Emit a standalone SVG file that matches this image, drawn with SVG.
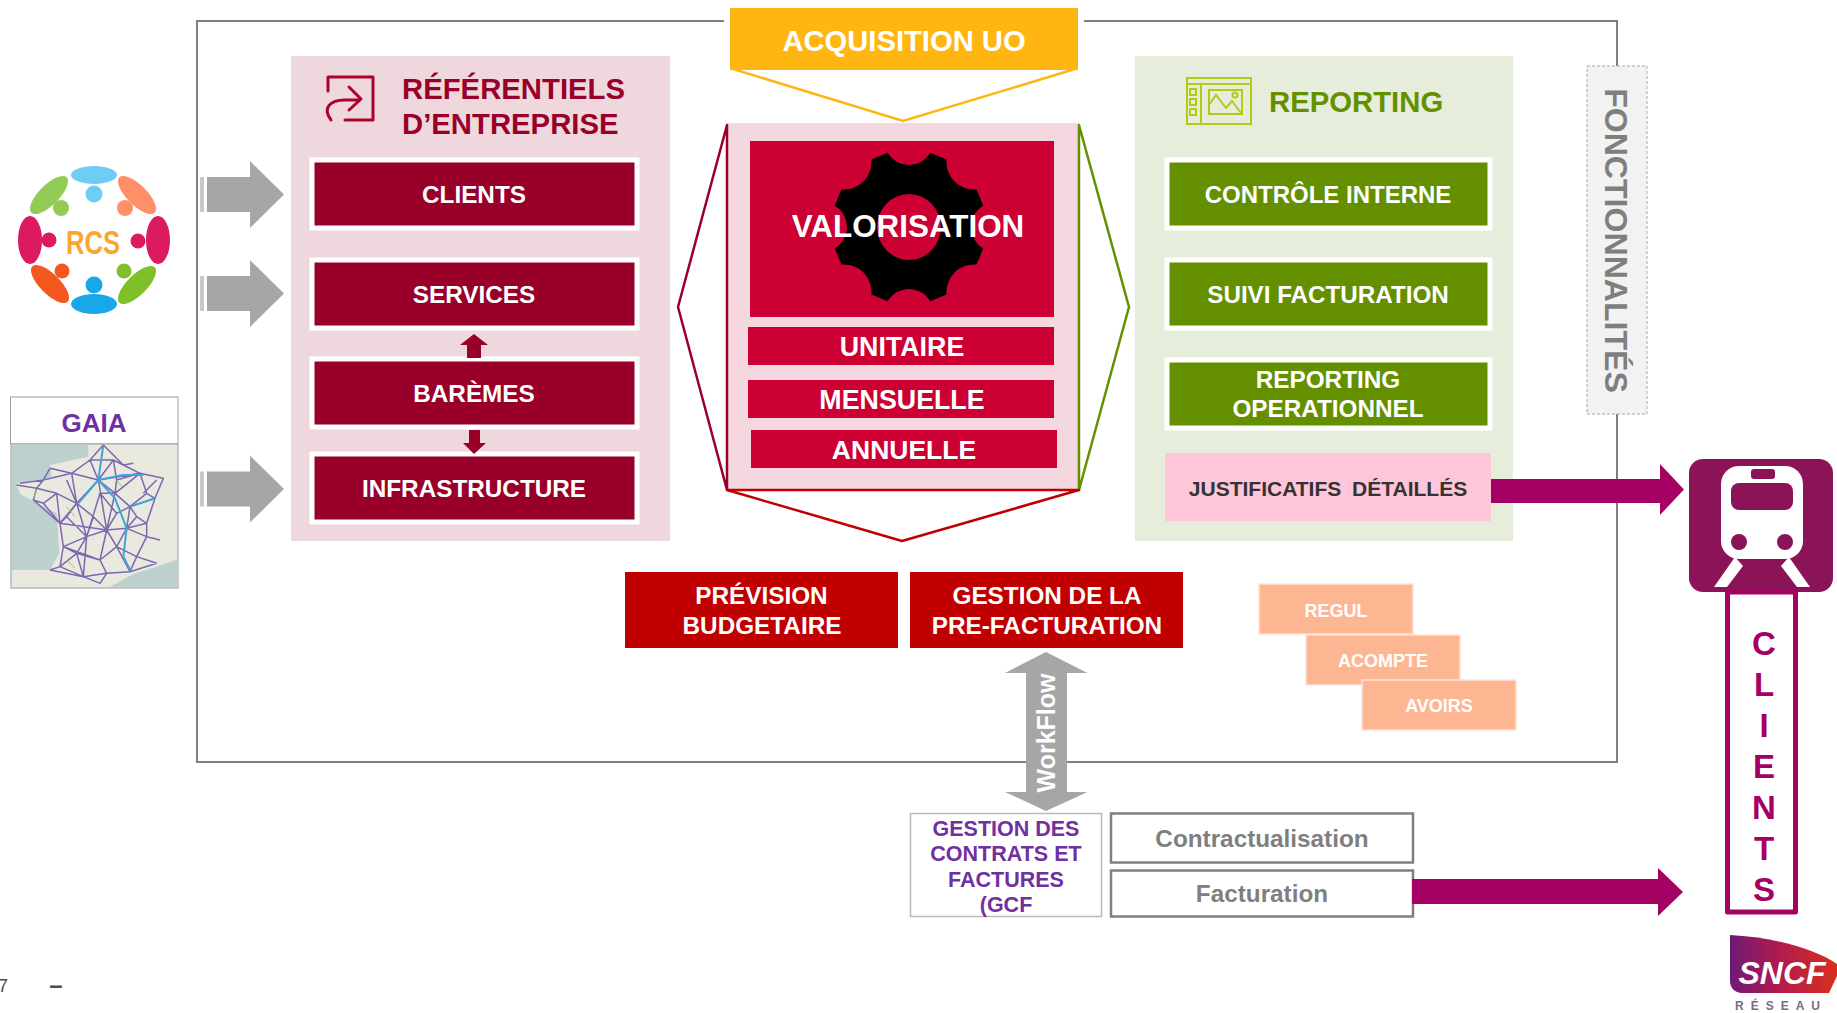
<svg xmlns="http://www.w3.org/2000/svg" width="1837" height="1013" viewBox="0 0 1837 1013">
<style>
text{font-family:"Liberation Sans",Arial,sans-serif;font-weight:700;text-anchor:middle}
.w{fill:#fff}
.f24{font-size:24.300px}
.ref{fill:#990029;stroke:#fff;stroke-width:5}
.rep{fill:#649000;stroke:#fff;stroke-width:5}
.val{fill:#CC0033}
.red{fill:#C00000}
.peach{fill:#FDB692;stroke:#FFE3D6;stroke-width:1.5}
.grey{fill:#A6A6A6}
.purple{fill:#A50064}
.cl{fill:#A50064;font-size:33px}
.title{font-size:29.300px;text-anchor:start}
.gc{fill:#7030A0;font-size:21.500px}
.outl{fill:#fff;stroke:#7F7F7F;stroke-width:2.5}
.net{fill:none;stroke:#7B68AE;stroke-width:4.500;stroke-linejoin:round}
.lgv{fill:none;stroke:#3FA5D8;stroke-width:6;stroke-linejoin:round}
</style>
<defs>
<path id="ga" d="M207 -17.500H250V-33.500L284 0L250 33.500V17.500H207Z"/>
<linearGradient id="sncf" x1="0" x2="1" y1="0" y2="0"><stop offset="0" stop-color="#6E1A78"/><stop offset=".45" stop-color="#B01A4E"/><stop offset="1" stop-color="#D8301E"/></linearGradient>
</defs>

<path id="frame" d="M724 21H197V762H1617V66M1617 66V21H1084" fill="none" stroke="#7F7F7F" stroke-width="2"/>

<g id="referentiels">
<rect x="291" y="56" width="379" height="485" fill="#EED8DE"/>
<path d="M328 91V77H373V120H345M331 120C322 108 330 100 345 100H360M349 87L361 99L349 110" fill="none" stroke="#B0002A" stroke-width="3" stroke-linejoin="round" stroke-linecap="round"/>
<text class="title" x="402" y="99" fill="#990029">RÉFÉRENTIELS</text>
<text class="title" x="402" y="134" fill="#990029">D’ENTREPRISE</text>
</g>
<g id="clients-ref"><rect class="ref" x="312" y="160" width="325" height="68"/><text class="w f24" x="474" y="203">CLIENTS</text></g>
<g id="services"><rect class="ref" x="312" y="260" width="325" height="68"/><text class="w f24" x="474" y="303">SERVICES</text></g>
<g id="baremes"><rect class="ref" x="312" y="359" width="325" height="68"/><text class="w f24" x="474" y="402">BARÈMES</text></g>
<g id="infrastructure"><rect class="ref" x="312" y="454" width="325" height="68"/><text class="w f24" x="474" y="497">INFRASTRUCTURE</text></g>

<g id="acquisition">
<path d="M733 69L903 121L1075 69" fill="none" stroke="#FFB612" stroke-width="2.500"/>
<rect x="730" y="8" width="348" height="62" fill="#FFB612"/>
<text class="w" x="904" y="51" font-size="29.200">ACQUISITION UO</text>
</g>

<g id="valorisation">
<rect x="727" y="123" width="352" height="367" fill="#F5D7E0"/>
<path d="M727 125L678 307L727 490Z" fill="none" stroke="#990029" stroke-width="2.500" stroke-linejoin="round"/>
<path d="M1079 125L1129 307L1079 490Z" fill="none" stroke="#649000" stroke-width="2.500" stroke-linejoin="round"/>
<path d="M727 490L902 541L1079 490Z" fill="none" stroke="#C00000" stroke-width="2.500" stroke-linejoin="round"/>
<rect class="val" x="750" y="141" width="304" height="176"/>
<g transform="translate(909 227) scale(1.030)">
<path fill-rule="evenodd" d="M20.700 -72.100L36.400 -65.600A27 27 0 0 0 65.600 -36.400L72.100 -20.700A24 24 0 0 0 72.100 20.700L65.600 36.400A27 27 0 0 0 36.400 65.600L20.700 72.100A24 24 0 0 0 -20.700 72.100L-36.400 65.600A27 27 0 0 0 -65.600 36.400L-72.100 20.700A24 24 0 0 0 -72.100 -20.700L-65.600 -36.400A27 27 0 0 0 -36.400 -65.600L-20.700 -72.100A24 24 0 0 0 20.700 -72.100ZM31 0A31 32 0 1 0 -31 0A31 32 0 1 0 31 0Z"/>
</g>
<text class="w" x="908" y="237" font-size="31.400">VALORISATION</text>
</g>
<g id="unitaire"><rect class="val" x="748" y="327" width="306" height="38"/><text class="w" x="902" y="356" font-size="26.800">UNITAIRE</text></g>
<g id="mensuelle"><rect class="val" x="748" y="380" width="306" height="38"/><text class="w" x="902" y="409" font-size="26.800">MENSUELLE</text></g>
<g id="annuelle"><rect class="val" x="751" y="430" width="306" height="38"/><text class="w" x="904" y="459" font-size="26.500">ANNUELLE</text></g>

<g id="reporting">
<rect x="1135" y="56" width="378" height="485" fill="#E6EEDB"/>
<g fill="none" stroke="#B5C918" stroke-width="2">
<rect x="1187" y="78" width="64" height="46"/><path d="M1187 84H1251M1201 84V124"/>
<rect x="1190" y="89" width="6" height="6"/><rect x="1190" y="99" width="6" height="6"/><rect x="1190" y="109" width="6" height="6"/>
<rect x="1209" y="90" width="33" height="24"/><path d="M1209 105L1216 95L1226 108L1232 101L1241 113"/><circle cx="1235" cy="95" r="2.500"/>
</g>
<text class="title" x="1269" y="112" fill="#649000">REPORTING</text>
</g>
<g id="controle"><rect class="rep" x="1167" y="160" width="323" height="68"/><text class="w" font-size="24" x="1328" y="203">CONTRÔLE INTERNE</text></g>
<g id="suivi"><rect class="rep" x="1167" y="260" width="323" height="68"/><text class="w" font-size="24.200" x="1328" y="303">SUIVI FACTURATION</text></g>
<g id="operationnel"><rect class="rep" x="1167" y="360" width="323" height="68"/><text class="w f24" x="1328" y="388">REPORTING</text><text class="w f24" x="1328" y="417">OPERATIONNEL</text></g>
<g id="justificatifs"><rect x="1165" y="453" width="326" height="68" fill="#FFC5D8"/><text x="1328" y="496" font-size="21" word-spacing="5" fill="#333">JUSTIFICATIFS DÉTAILLÉS</text></g>

<g id="fonctionnalites">
<rect x="1587" y="66" width="60" height="348" fill="#F2F2F2" stroke="#A6A6A6" stroke-width="1" stroke-dasharray="3 2"/>
<text transform="translate(1604.500 240.500) rotate(90)" font-size="32.100" fill="#7F7F7F">FONCTIONNALITÉS</text>
</g>

<g id="prevision"><rect class="red" x="625" y="572" width="273" height="76"/><text class="w f24" x="761.500" y="604">PRÉVISION</text><text class="w f24" x="762" y="634">BUDGETAIRE</text></g>
<g id="gestion"><rect class="red" x="910" y="572" width="273" height="76"/><text class="w f24" x="1047" y="604">GESTION DE LA</text><text class="w f24" x="1047" y="634">PRE-FACTURATION</text></g>

<g id="regul"><rect class="peach" x="1259" y="584" width="154" height="50"/><text class="w" font-size="18" x="1336" y="617">REGUL</text></g>
<g id="acompte"><rect class="peach" x="1306" y="635" width="154" height="50"/><text class="w" font-size="18" x="1383" y="667">ACOMPTE</text></g>
<g id="avoirs"><rect class="peach" x="1362" y="680" width="154" height="50"/><text class="w" font-size="18" x="1439" y="712">AVOIRS</text></g>

<g id="rcs">
<ellipse cx="94" cy="175" rx="23" ry="9" fill="#6FCDF5"/><circle cx="94" cy="194" r="8.500" fill="#6FCDF5"/>
<ellipse cx="94" cy="304" rx="23" ry="10" fill="#1AA7E8"/><circle cx="94" cy="285" r="8.500" fill="#1AA7E8"/>
<ellipse cx="30" cy="240" rx="12" ry="24" fill="#DC1A60"/><circle cx="49" cy="240" r="7.500" fill="#DC1A60"/>
<ellipse cx="158" cy="240" rx="12" ry="24" fill="#DC1A60"/><circle cx="138" cy="241" r="7.500" fill="#DC1A60"/>
<ellipse cx="49" cy="195" rx="25" ry="10" transform="rotate(-45 49 195)" fill="#92CC55"/><circle cx="61" cy="208" r="8" fill="#92CC55"/>
<ellipse cx="137" cy="195" rx="25" ry="10" transform="rotate(45 137 195)" fill="#FF8F66"/><circle cx="125" cy="208" r="8" fill="#FF8F66"/>
<ellipse cx="50" cy="284" rx="25" ry="10" transform="rotate(45 50 284)" fill="#F4581E"/><circle cx="62" cy="271" r="7.500" fill="#F4581E"/>
<ellipse cx="137" cy="285" rx="25" ry="10" transform="rotate(-45 137 285)" fill="#7FBF2A"/><circle cx="124" cy="271" r="7.500" fill="#7FBF2A"/>
<text x="93" y="254" font-size="33" textLength="54" lengthAdjust="spacingAndGlyphs" fill="#F7A833">RCS</text>
</g>

<g id="gaia">
<rect x="10.500" y="397" width="167.500" height="47" fill="#fff" stroke="#A79E97" stroke-width="1"/>
<text x="94" y="431.500" font-size="26" fill="#7030A0">GAIA</text>
<rect x="11" y="444" width="167" height="144" fill="#E9E9E0" stroke="#9A9A9A" stroke-width="1"/>
<g transform="translate(0 140) scale(.33333)">
<path d="M36 913H265V950L150 975L155 1012L50 1030L60 1062L170 1120L178 1240L150 1290L36 1290Z" fill="#BCD0CE"/>
<path d="M330 1340L400 1302L470 1280L534 1258V1340Z" fill="#BCD0CE"/>
<path class="net" d="M50 1035L110 1045L170 1060L230 1090L295 1020L345 1060L390 1100L465 1075L490 1015L420 1000L295 1020L270 960L310 915L370 975L420 1000M150 985L215 1000L295 1020M110 1045L100 1080L180 1150L190 1220L180 1280L250 1310L300 1330M230 1090L180 1150M230 1090L260 1190L190 1220M260 1190L250 1310L320 1300L390 1295L470 1270M260 1190L320 1170L300 1260L320 1300M295 1020L320 1170L380 1165L440 1150L465 1075M380 1165L440 1190L410 1250L390 1295M345 1060L420 1000M390 1100L380 1165M230 1090L215 1000M320 1170L345 1060L300 1060L260 1190M180 1150L320 1170M190 1220L300 1260M150 1290L250 1310M430 1060L470 1020M350 1220L300 1260M60 1030L130 1020L215 1000M110 1045L130 1020L150 985M170 1060L180 1150M130 1090L180 1150M100 1080L130 1090L170 1060M230 1090L200 1020M215 1000L270 960M270 960L340 960L370 975L400 970M295 1020L340 960M340 960L350 1020L420 1000M350 1020L345 1060M420 1000L440 1060L465 1075M390 1100L440 1060M390 1100L350 1120L320 1170M350 1120L300 1060M260 1190L200 1130L180 1150M230 1090L280 1130L320 1170M280 1130L260 1190M200 1130L230 1090M190 1220L230 1240L250 1310M230 1240L300 1260M260 1190L230 1240M180 1280L230 1240M320 1170L350 1220L380 1165M350 1220L390 1295M410 1250L350 1220M440 1190L480 1200M440 1150L440 1190M380 1165L410 1130L440 1150M410 1130L390 1100M410 1250L470 1270M300 1330L320 1300M180 1280L150 1290"/>
<path class="lgv" d="M310 915L295 1020L345 1075L380 1165L370 1250L392 1292M295 1020L235 1090M295 1020L370 1005L430 1005M390 1100L465 1075"/>
<path d="M200 1100L225 1130M110 1050L100 1075M350 1020L365 1040M200 1260L225 1285" stroke="#9CCB5A" stroke-width="3" fill="none"/>
</g>
</g>

<g id="gcf">
<rect x="910.500" y="813.500" width="191" height="103" fill="#fff" stroke="#BFB8B2" stroke-width="1.500"/>
<text class="gc" x="1006" y="836">GESTION DES</text><text class="gc" x="1006" y="861">CONTRATS ET</text><text class="gc" x="1006" y="887">FACTURES</text><text class="gc" x="1006" y="912">(GCF</text>
</g>
<g id="contractualisation"><rect class="outl" x="1111" y="813.500" width="302" height="49"/><text x="1262" y="847" font-size="24.300" fill="#7F7F7F">Contractualisation</text></g>
<g id="facturation"><rect class="outl" x="1111" y="870.500" width="302" height="46"/><text x="1262" y="902" font-size="24.300" fill="#7F7F7F">Facturation</text></g>

<g id="train">
<rect x="1689" y="459" width="144" height="133" rx="14" fill="#8B1458"/>
<rect x="1721" y="466" width="82" height="93" rx="18" fill="#fff"/>
<rect x="1731" y="483" width="62" height="27" rx="8" fill="#8B1458"/>
<rect x="1751" y="469" width="24" height="10" rx="3" fill="#8B1458"/>
<circle cx="1739" cy="542" r="8" fill="#8B1458"/><circle cx="1785" cy="542" r="8" fill="#8B1458"/>
<path d="M1735 557L1743 566L1727 587H1714ZM1789 557L1781 566L1797 587H1810Z" fill="#fff"/>
</g>
<g id="clients">
<rect x="1727.500" y="592" width="68" height="320" fill="#fff" stroke="#A50064" stroke-width="5" stroke-linejoin="round"/>
<text class="cl" x="1764" y="655">C</text><text class="cl" x="1764" y="696">L</text><text class="cl" x="1764" y="737">I</text><text class="cl" x="1764" y="778">E</text><text class="cl" x="1764" y="819">N</text><text class="cl" x="1764" y="860">T</text><text class="cl" x="1764" y="901">S</text>
</g>

<g id="sncf-logo">
<path d="M1730 935C1770 937 1812 947 1837 964V976L1829 993H1742C1735 993 1730 988 1730 981Z" fill="url(#sncf)"/>
<text x="1782" y="984" font-size="32" font-style="italic" fill="#fff">SNCF</text>
<text x="1781" y="1010" font-size="12" letter-spacing="7" fill="#7A6A88">RÉSEAU</text>
</g>

<g id="page"><text x="3" y="992" font-size="18" fill="#4D4D4D" style="font-weight:400">7</text><text x="56" y="993" font-size="24" fill="#4D4D4D">–</text></g>

<g id="connectors">
<g class="grey">
<g transform="translate(0 194.500)"><use href="#ga"/><rect x="200" y="-17.500" width="4" height="35" fill="#C8C8C8"/></g>
<g transform="translate(0 293.500)"><use href="#ga"/><rect x="200" y="-17.500" width="4" height="35" fill="#C8C8C8"/></g>
<g transform="translate(0 489)"><use href="#ga"/><rect x="200" y="-17.500" width="4" height="35" fill="#C8C8C8"/></g>
</g>
<path d="M474 334L488 345H481V358H467V345H460Z" fill="#990029"/>
<path d="M469 430H480V443H486L474 454L463 443H469Z" fill="#990029"/>
<path class="purple" d="M1491 479H1660V464L1684 489.500L1660 515V503H1491Z"/>
<path class="purple" d="M1412 879H1658V868L1683 892L1658 916V904H1412Z"/>
<path class="grey" d="M1046 652L1087.500 673H1067V792H1087.500L1046 811L1005 792H1026V673H1005Z"/>
<text class="w" transform="translate(1055 733) rotate(-90)" font-size="25">WorkFlow</text>
</g>
</svg>
